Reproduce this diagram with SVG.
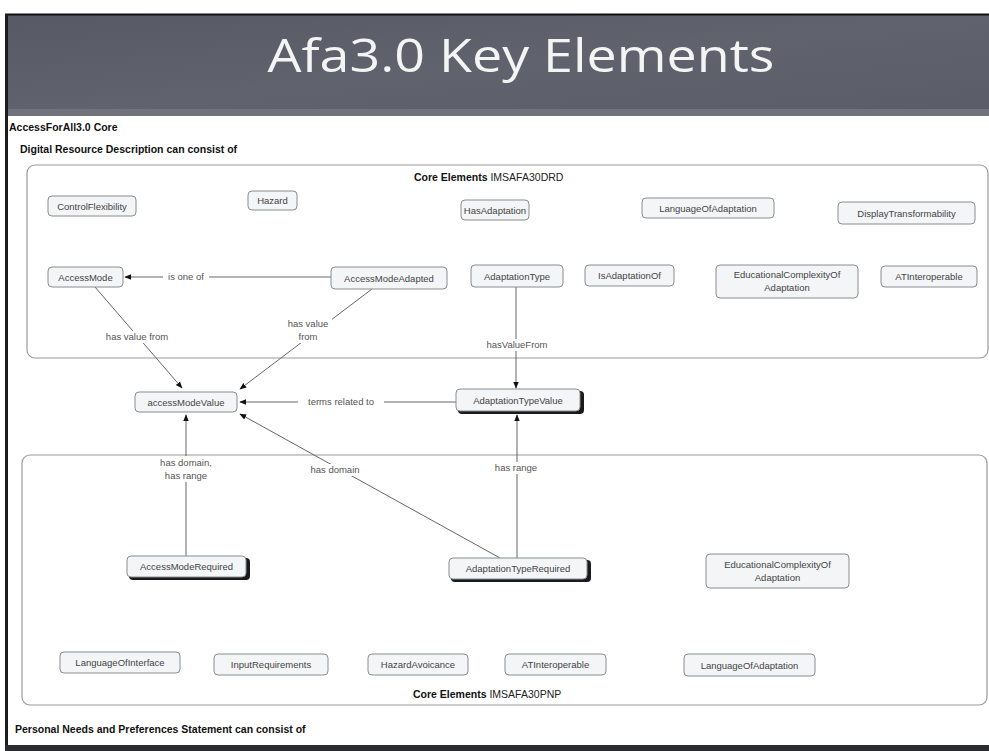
<svg xmlns="http://www.w3.org/2000/svg" width="989" height="751" viewBox="0 0 989 751">
<defs>
<linearGradient id="bg" x1="0" y1="0" x2="1" y2="1">
<stop offset="0" stop-color="#575a64"/>
<stop offset="0.5" stop-color="#60636d"/>
<stop offset="1" stop-color="#5a5d67"/>
</linearGradient>
<marker id="arr" viewBox="0 0 10 10" refX="9" refY="5" markerWidth="7" markerHeight="7" orient="auto-start-reverse" markerUnits="userSpaceOnUse">
<path d="M0,1 L10,5 L0,9 z" fill="#111"/>
</marker>
<style>
.frame{fill:#fff;stroke:#9a9a9a;stroke-width:1.2}
.node rect.b{fill:#f3f5f7;stroke:#8a8c90;stroke-width:1}
.node rect.s{fill:#1a1a1a}
.node text{font-family:"Liberation Sans","DejaVu Sans",sans-serif;font-size:9.5px;fill:#444;text-anchor:middle}
.edge line{stroke:#666;stroke-width:1;fill:none}
.edge .a{marker-end:url(#arr)}
.lbl{font-family:"Liberation Sans","DejaVu Sans",sans-serif;font-size:9.5px;fill:#555;text-anchor:middle}
.hdr{font-family:"Liberation Sans","DejaVu Sans",sans-serif;font-size:10.5px;font-weight:bold;fill:#111}
.ce{font-family:"Liberation Sans","DejaVu Sans",sans-serif;font-size:10.5px;fill:#222}
.lblbg{fill:#fff}
</style>
</defs>
<rect width="989" height="751" fill="#fff"/>
<!-- slide frame -->
<rect x="5" y="14" width="984" height="102" fill="url(#bg)"/>
<rect x="5" y="109" width="984" height="7" fill="#70737b"/>
<line x1="5" y1="14.5" x2="989" y2="14.5" stroke="#111" stroke-width="2"/>
<rect x="5" y="14" width="3" height="737" fill="#1c1c1c"/>
<rect x="5" y="745" width="984" height="6" fill="#2a2b2e"/>
<text x="521" y="72" font-family="'Open Sans','DejaVu Sans',sans-serif" font-size="46" fill="#f4f4f4" text-anchor="middle" textLength="507" lengthAdjust="spacingAndGlyphs">Afa3.0 Key Elements</text>

<text class="hdr" x="9" y="131">AccessForAll3.0 Core</text>
<text class="hdr" x="20" y="153">Digital Resource Description can consist of</text>
<text class="hdr" x="15" y="733">Personal Needs and Preferences Statement can consist of</text>

<!-- container frames -->
<g id="drd-frame">
<rect class="frame" x="27" y="165" width="961" height="193" rx="8"/>
<text class="ce" x="414" y="181"><tspan font-weight="bold" fill="#111">Core Elements</tspan> IMSAFA30DRD</text>
</g>
<g id="pnp-frame">
<rect class="frame" x="22" y="455" width="965" height="250" rx="8"/>
<text class="ce" x="413" y="698"><tspan font-weight="bold" fill="#111">Core Elements</tspan>  IMSAFA30PNP</text>
</g>

<!-- connectors -->
<g id="connectors" class="edge">
<line class="a" x1="331" y1="277" x2="125" y2="277"/>
<line class="a" x1="95" y1="287" x2="182" y2="388"/>
<line class="a" x1="372" y1="289" x2="240" y2="389"/>
<line class="a" x1="516" y1="287" x2="516" y2="388"/>
<line class="a" x1="456" y1="402" x2="240" y2="402"/>
<line class="a" x1="186" y1="556" x2="186" y2="415"/>
<line class="a" x1="500" y1="558" x2="240" y2="414"/>
<line class="a" x1="517" y1="558" x2="517" y2="415"/>
<rect class="lblbg" x="163" y="270" width="46" height="13"/>
<text class="lbl" x="186" y="280">is one of</text>
<rect class="lblbg" x="97" y="331" width="82" height="12"/>
<text class="lbl" x="137" y="340">has value from</text>
<rect class="lblbg" x="284" y="317" width="48" height="26"/>
<text class="lbl" x="308" y="327">has value</text>
<text class="lbl" x="308" y="340">from</text>
<rect class="lblbg" x="478" y="339" width="78" height="12"/>
<text class="lbl" x="517" y="348">hasValueFrom</text>
<rect class="lblbg" x="298" y="395" width="86" height="13"/>
<text class="lbl" x="341" y="405">terms related to</text>
<rect class="lblbg" x="156" y="456" width="60" height="26"/>
<text class="lbl" x="186" y="466">has domain,</text>
<text class="lbl" x="186" y="479">has range</text>
<rect class="lblbg" x="305" y="464" width="60" height="12"/>
<text class="lbl" x="335" y="473">has domain</text>
<rect class="lblbg" x="490" y="462" width="52" height="12"/>
<text class="lbl" x="516" y="471">has range</text>
</g>

<!-- nodes: top container -->
<g id="ControlFlexibility" class="node"><rect class="b" x="48" y="196" width="88" height="20" rx="4"/><text x="92" y="209.5">ControlFlexibility</text></g>
<g id="Hazard" class="node"><rect class="b" x="248" y="191" width="49" height="19" rx="4"/><text x="272.5" y="204">Hazard</text></g>
<g id="HasAdaptation" class="node"><rect class="b" x="461" y="200" width="68" height="20" rx="4"/><text x="495" y="213.5">HasAdaptation</text></g>
<g id="LanguageOfAdaptation" class="node"><rect class="b" x="642" y="198" width="132" height="20" rx="4"/><text x="708" y="211.5">LanguageOfAdaptation</text></g>
<g id="DisplayTransformability" class="node"><rect class="b" x="838" y="202" width="137" height="22" rx="4"/><text x="906.5" y="216.5">DisplayTransformability</text></g>
<g id="AccessMode" class="node"><rect class="b" x="48" y="267" width="75" height="20" rx="4"/><text x="85.5" y="280.5">AccessMode</text></g>
<g id="AccessModeAdapted" class="node"><rect class="b" x="331" y="267" width="116" height="22" rx="4"/><text x="389" y="281.5">AccessModeAdapted</text></g>
<g id="AdaptationType" class="node"><rect class="b" x="471" y="265" width="92" height="22" rx="4"/><text x="517" y="279.5">AdaptationType</text></g>
<g id="IsAdaptationOf" class="node"><rect class="b" x="585" y="265" width="89" height="21" rx="4"/><text x="629.5" y="279">IsAdaptationOf</text></g>
<g id="EducationalComplexityOfAdaptation-DRD" class="node"><rect class="b" x="716" y="265" width="142" height="33" rx="4"/><text x="787" y="278">EducationalComplexityOf</text><text x="787" y="291">Adaptation</text></g>
<g id="ATInteroperable-DRD" class="node"><rect class="b" x="881" y="266" width="96" height="21" rx="4"/><text x="929" y="280">ATInteroperable</text></g>

<!-- middle nodes -->
<g id="accessModeValue" class="node"><rect class="b" x="135" y="392" width="102" height="20" rx="4"/><text x="186" y="405.5">accessModeValue</text></g>
<g id="AdaptationTypeValue" class="node"><rect class="s" x="458" y="391" width="126" height="23" rx="4"/><rect class="b" x="456" y="389" width="124" height="22" rx="4"/><text x="518" y="403.5">AdaptationTypeValue</text></g>

<!-- bottom container nodes -->
<g id="AccessModeRequired" class="node"><rect class="s" x="129" y="558" width="121" height="22" rx="4"/><rect class="b" x="127" y="556" width="119" height="21" rx="4"/><text x="186.5" y="570">AccessModeRequired</text></g>
<g id="AdaptationTypeRequired" class="node"><rect class="s" x="451" y="560" width="140" height="22" rx="4"/><rect class="b" x="449" y="558" width="138" height="21" rx="4"/><text x="518" y="572">AdaptationTypeRequired</text></g>
<g id="EducationalComplexityOfAdaptation-PNP" class="node"><rect class="b" x="706" y="554" width="143" height="34" rx="4"/><text x="777.5" y="568">EducationalComplexityOf</text><text x="777.5" y="581">Adaptation</text></g>
<g id="LanguageOfInterface" class="node"><rect class="b" x="60" y="652" width="120" height="21" rx="4"/><text x="120" y="666">LanguageOfInterface</text></g>
<g id="InputRequirements" class="node"><rect class="b" x="214" y="654" width="114" height="21" rx="4"/><text x="271" y="668">InputRequirements</text></g>
<g id="HazardAvoicance" class="node"><rect class="b" x="368" y="654" width="100" height="21" rx="4"/><text x="418" y="668">HazardAvoicance</text></g>
<g id="ATInteroperable-PNP" class="node"><rect class="b" x="505" y="654" width="101" height="21" rx="4"/><text x="555.5" y="668">ATInteroperable</text></g>
<g id="LanguageOfAdaptation-PNP" class="node"><rect class="b" x="684" y="654" width="131" height="22" rx="4"/><text x="749.5" y="668.5">LanguageOfAdaptation</text></g>
</svg>
